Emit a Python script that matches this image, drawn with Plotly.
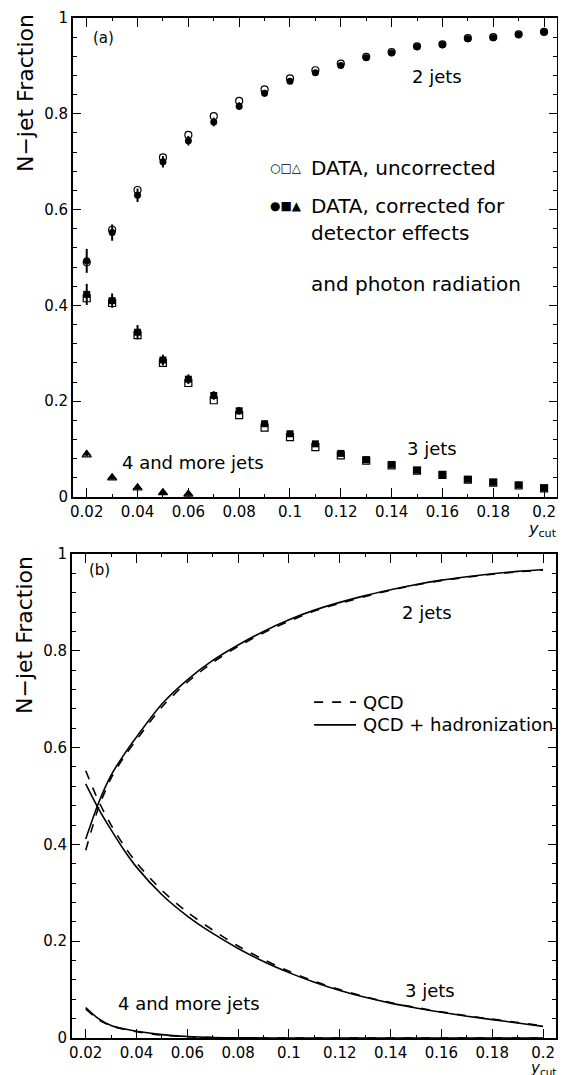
import plotly.graph_objects as go

# ---------------- data: panel (a) ----------------
ycut = [0.02, 0.03, 0.04, 0.05, 0.06, 0.07, 0.08, 0.09, 0.10, 0.11,
        0.12, 0.13, 0.14, 0.15, 0.16, 0.17, 0.18, 0.19, 0.20]
two_corr = [0.493, 0.552, 0.630, 0.700, 0.744, 0.783, 0.816, 0.843, 0.868, 0.886,
            0.901, 0.917, 0.927, 0.940, 0.944, 0.957, 0.959, 0.965, 0.971]
two_unc = [0.490, 0.558, 0.641, 0.709, 0.756, 0.795, 0.827, 0.851, 0.874, 0.891,
           0.905, 0.919, 0.929, 0.941, 0.945, 0.958, 0.960, 0.966, 0.971]
two_err = [0.025, 0.017, 0.014, 0.012, 0.010, 0.009, 0.008, 0.007, 0.006, 0.006,
           0.005, 0.005, 0.005, 0.004, 0.004, 0.004, 0.004, 0.003, 0.003]
three_corr = [0.423, 0.410, 0.344, 0.286, 0.246, 0.212, 0.180, 0.153, 0.132, 0.111,
              0.091, 0.078, 0.068, 0.056, 0.047, 0.037, 0.031, 0.025, 0.019]
three_unc = [0.415, 0.405, 0.338, 0.280, 0.238, 0.202, 0.171, 0.145, 0.125, 0.104,
             0.087, 0.076, 0.066, 0.055, 0.046, 0.036, 0.030, 0.024, 0.018]
three_err = [0.022, 0.015, 0.015, 0.011, 0.010, 0.009, 0.008, 0.007, 0.006, 0.005,
             0.005, 0.004, 0.004, 0.004, 0.003, 0.003, 0.003, 0.003, 0.003]
ycut4 = [0.02, 0.03, 0.04, 0.05, 0.06]
four_corr = [0.091, 0.041, 0.021, 0.010, 0.007]
four_unc = [0.088, 0.040, 0.019, 0.009, 0.006]
four_err = [0.006, 0.004, 0.004, 0.002, 0.002]

# ---------------- data: panel (b) ----------------
ycut_th = [0.02, 0.025, 0.03, 0.035, 0.04, 0.05, 0.06, 0.07, 0.08, 0.09, 0.10,
           0.11, 0.12, 0.13, 0.14, 0.15, 0.16, 0.17, 0.18, 0.19, 0.20]
two_had = [0.411, 0.485, 0.543, 0.585, 0.622, 0.690, 0.740, 0.780, 0.812, 0.840, 0.864,
           0.884, 0.900, 0.914, 0.926, 0.937, 0.946, 0.953, 0.959, 0.964, 0.968]
two_qcd = [0.388, 0.475, 0.537, 0.580, 0.616, 0.684, 0.735, 0.776, 0.809, 0.837, 0.861,
           0.882, 0.898, 0.912, 0.925, 0.936, 0.945, 0.952, 0.958, 0.963, 0.967]
three_had = [0.525, 0.474, 0.430, 0.389, 0.353, 0.296, 0.252, 0.216, 0.185, 0.158, 0.135,
             0.115, 0.098, 0.084, 0.072, 0.062, 0.053, 0.045, 0.038, 0.031, 0.024]
three_qcd = [0.552, 0.490, 0.440, 0.398, 0.362, 0.305, 0.260, 0.223, 0.190, 0.162, 0.138,
             0.117, 0.100, 0.085, 0.073, 0.063, 0.054, 0.046, 0.039, 0.032, 0.025]
four_had = [0.063, 0.040, 0.026, 0.019, 0.014, 0.007, 0.003, 0.001, 0.0005, 0.0, 0.0,
            0.0, 0.0, 0.0, 0.0, 0.0, 0.0, 0.0, 0.0, 0.0, 0.0]
four_qcd = [0.060, 0.038, 0.025, 0.018, 0.013, 0.006, 0.0025, 0.001, 0.0, 0.0, 0.0,
            0.0, 0.0, 0.0, 0.0, 0.0, 0.0, 0.0, 0.0, 0.0, 0.0]

FONT = "DejaVu Sans"
W, H = 558, 1067
fig = go.Figure()

def open_pts(x, y, sym, size=7):
    fig.add_trace(go.Scatter(x=x, y=y, mode="markers", xaxis="x", yaxis="y",
                             marker=dict(symbol=sym, size=size, color="white",
                                         line=dict(color="black", width=1.2)),
                             showlegend=False))

def filled_pts(x, y, err, sym, size=7):
    fig.add_trace(go.Scatter(x=x, y=y, mode="markers", xaxis="x", yaxis="y",
                             marker=dict(symbol=sym, size=size, color="black"),
                             error_y=dict(type="data", array=err, width=0,
                                          thickness=2, color="black"),
                             showlegend=False))

open_pts(ycut, two_unc, "circle")
open_pts(ycut, three_unc, "square")
open_pts(ycut4, four_unc, "triangle-up", size=8)
filled_pts(ycut, two_corr, two_err, "circle")
filled_pts(ycut, three_corr, three_err, "square")
filled_pts(ycut4, four_corr, four_err, "triangle-up", size=8)

for ys, dash in [(two_qcd, "dash"), (two_had, "solid"), (three_qcd, "dash"),
                 (three_had, "solid"), (four_qcd, "dash"), (four_had, "solid")]:
    fig.add_trace(go.Scatter(x=ycut_th, y=ys, mode="lines", xaxis="x2", yaxis="y2",
                             line=dict(color="black", width=1.6, dash=dash,
                                       shape="spline", smoothing=0.8),
                             showlegend=False))

xax = dict(range=[0.0146, 0.2051], tickvals=[0.02, 0.04, 0.06, 0.08, 0.1, 0.12, 0.14,
                                              0.16, 0.18, 0.2],
           ticktext=["0.02", "0.04", "0.06", "0.08", "0.1", "0.12", "0.14", "0.16",
                     "0.18", "0.2"],
           ticks="inside", ticklen=9, tickwidth=1.2, tickcolor="black",
           minor=dict(dtick=0.01, tick0=0, ticks="inside", ticklen=3, tickcolor="black"),
           showline=True, linewidth=2, linecolor="black", mirror="allticks",
           showgrid=False, zeroline=False,
           tickfont=dict(family=FONT, size=15, color="black"))
yax = dict(range=[0, 1], tickvals=[0, 0.2, 0.4, 0.6, 0.8, 1],
           ticktext=["0", "0.2", "0.4", "0.6", "0.8", "1"],
           ticks="inside", ticklen=8, tickwidth=1.2, tickcolor="black",
           minor=dict(dtick=0.04, tick0=0, ticks="inside", ticklen=4, tickcolor="black"),
           showline=True, linewidth=2, linecolor="black", mirror="allticks",
           showgrid=False, zeroline=False,
           tickfont=dict(family=FONT, size=15, color="black"))

fig.update_layout(
    width=W, height=H, margin=dict(l=0, r=0, t=0, b=0, autoexpand=False),
    paper_bgcolor="white", plot_bgcolor="white", showlegend=False,
    xaxis=dict(xax, domain=[0.1165, 0.9839], anchor="y"),
    yaxis=dict(yax, domain=[0.5417, 0.9906], anchor="x"),
    xaxis2=dict(xax, domain=[0.1147, 0.9821], anchor="y2"),
    yaxis2=dict(yax, domain=[0.0347, 0.4883], anchor="x2"),
)

ann = []
def txt(text, x, y, xref, yref, size=16, xanchor="left", yanchor="middle", **kw):
    ann.append(dict(text=text, x=x, y=y, xref=xref, yref=yref, showarrow=False,
                    xanchor=xanchor, yanchor=yanchor,
                    font=dict(family=FONT, size=size, color="black"), **kw))

# panel (a)
txt("(a)", 0.0215, 0.959, "x", "y", size=15)
txt("2 jets", 0.158, 0.878, "x", "y", size=18, xanchor="center")
txt("○□△", 0.1055, 0.686, "x", "y", size=12, xanchor="right")
txt("DATA, uncorrected", 0.1075, 0.686, "x", "y", size=20)
txt("●■▲", 0.1055, 0.607, "x", "y", size=12, xanchor="right")
txt("DATA, corrected for", 0.1075, 0.607, "x", "y", size=20)
txt("detector effects", 0.1075, 0.552, "x", "y", size=20)
txt("and photon radiation", 0.1075, 0.444, "x", "y", size=20)
txt("3 jets", 0.156, 0.101, "x", "y", size=18, xanchor="center")
txt("4 and more jets", 0.0331, 0.072, "x", "y", size=18)
# panel (b)
txt("(b)", 0.0205, 0.967, "x2", "y2", size=15)
txt("2 jets", 0.1543, 0.880, "x2", "y2", size=18, xanchor="center")
txt("QCD", 0.1284, 0.694, "x2", "y2", size=18)
txt("QCD + hadronization", 0.1284, 0.647, "x2", "y2", size=18)
txt("3 jets", 0.1556, 0.099, "x2", "y2", size=18, xanchor="center")
txt("4 and more jets", 0.032, 0.072, "x2", "y2", size=18)

# axis titles
txt("N−jet Fraction", 0.0305, 0.9203, "paper", "paper", size=22, xanchor="center",
    textangle=-90)
txt("N−jet Fraction", 0.0305, 0.4124, "paper", "paper", size=22, xanchor="center",
    textangle=-90)
txt("<i>y</i><sub>cut</sub>", 0.9875, 0.5115, "paper", "paper", size=16, xanchor="right")
txt("<i>y</i><sub>cut</sub>", 0.9857, 0.0060, "paper", "paper", size=15, xanchor="right")
fig.update_layout(annotations=ann)

# legend line samples for panel (b)
fig.add_shape(type="line", xref="x2", yref="y2", x0=0.1099, x1=0.1264, y0=0.694, y1=0.694,
              line=dict(color="black", width=1.6, dash="dash"))
fig.add_shape(type="line", xref="x2", yref="y2", x0=0.1099, x1=0.1264, y0=0.647, y1=0.647,
              line=dict(color="black", width=1.6))

fig.write_html("out.html")
